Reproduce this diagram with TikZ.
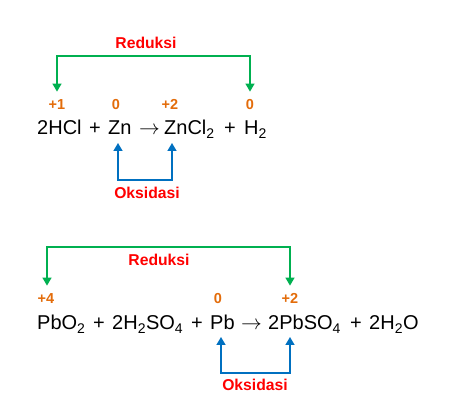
\documentclass[tikz,border=0pt]{standalone}
\usepackage{fontspec}
\setmainfont{Liberation Sans}
\usetikzlibrary{arrows.meta,positioning}
\definecolor{redoxgreen}{HTML}{00B050}
\definecolor{redoxblue}{HTML}{0070C0}
\definecolor{redoxorange}{HTML}{E36C0A}
\definecolor{redoxred}{HTML}{FF0000}

\begin{document}
\begin{tikzpicture}[
  x=1pt, y=-1pt,
  eqn/.style={anchor=base west, inner sep=0pt, font=\fontsize{20}{24}\selectfont, text=black},
  oxnum/.style={inner sep=0pt, text height=10.4pt, text depth=0pt, font=\fontsize{14.5}{17}\selectfont\bfseries, text=redoxorange},
  lbl/.style={inner sep=0pt, font=\fontsize{15.7}{18}\selectfont\bfseries, text=redoxred},
  arr/.style={{Triangle[length=8pt,width=9pt]}-{Triangle[length=8pt,width=9pt]}, line width=1.5pt},
  redarr/.style={arr, redoxgreen, shorten <=7pt, shorten >=7pt},
  oxarr/.style={arr, redoxblue},
]
\useasboundingbox (0,0) rectangle (451,417);

% First reaction
\node[eqn] (hcl)  at (37,135)  {2HCl};
\node[eqn] (pa)   at (89,135)  {+};
\node[eqn] (zn)   at (108,135) {Zn};
\node[eqn] (ra)   at (139,135) {$\rightarrow$};
\node[eqn] (zncl) at (164,135) {ZnCl\textsubscript{2}};
\node[eqn] (pb)   at (224,135) {+};
\node[eqn] (hh)   at (244,135) {H\textsubscript{2}};

% Oxidation numbers
\node[oxnum] (ha) at (57,104)  {+1};
\node[oxnum] (za) at (116,104) {0};
\node[oxnum] (zb) at (170,104) {+2};
\node[oxnum] (hb) at (250,104) {0};

% Reduction and oxidation brackets
\node[lbl] (reda) at (146,43)  {Reduksi};
\node[lbl] (oxa)  at (147,193) {Oksidasi};
\coordinate (redbenda) at (146,56);
\coordinate (oxbenda)  at (147,180);
\draw[redarr] (ha.north) |- (redbenda) -| (hb.north);
\draw[oxarr] ([xshift=10pt,yshift=-8pt]zn.base west) |- (oxbenda)
  -| ([xshift=8pt,yshift=-8pt]zncl.base west);

% Second reaction
\node[eqn] (pbo)  at (37,330)  {PbO\textsubscript{2}};
\node[eqn] (pc)   at (93,330)  {+};
\node[eqn] (hso)  at (112,330) {2H\textsubscript{2}SO\textsubscript{4}};
\node[eqn] (pd)   at (191,330) {+};
\node[eqn] (pbm)  at (210,330) {Pb};
\node[eqn] (rb)   at (241,330) {$\rightarrow$};
\node[eqn] (pbs)  at (268,330) {2PbSO\textsubscript{4}};
\node[eqn] (pe)   at (350,330) {+};
\node[eqn] (hho)  at (369,330) {2H\textsubscript{2}O};

% Oxidation numbers
\node[oxnum] (pa4) at (46,298)  {+4};
\node[oxnum] (pb0) at (218,298) {0};
\node[oxnum] (pb2) at (290,298) {+2};

% Reduction and oxidation brackets
\node[lbl] (redb) at (159,260) {Reduksi};
\node[lbl] (oxb)  at (255,385) {Oksidasi};
\coordinate (redbendb) at (159,247);
\coordinate (oxbendb)  at (255,373);
\draw[redarr] ([xshift=1pt]pa4.north) |- (redbendb) -| (pb2.north);
\draw[oxarr] ([xshift=11pt,yshift=-7pt]pbm.base west) |- (oxbendb)
  -| ([xshift=22pt,yshift=-7pt]pbs.base west);

\end{tikzpicture}
\end{document}
